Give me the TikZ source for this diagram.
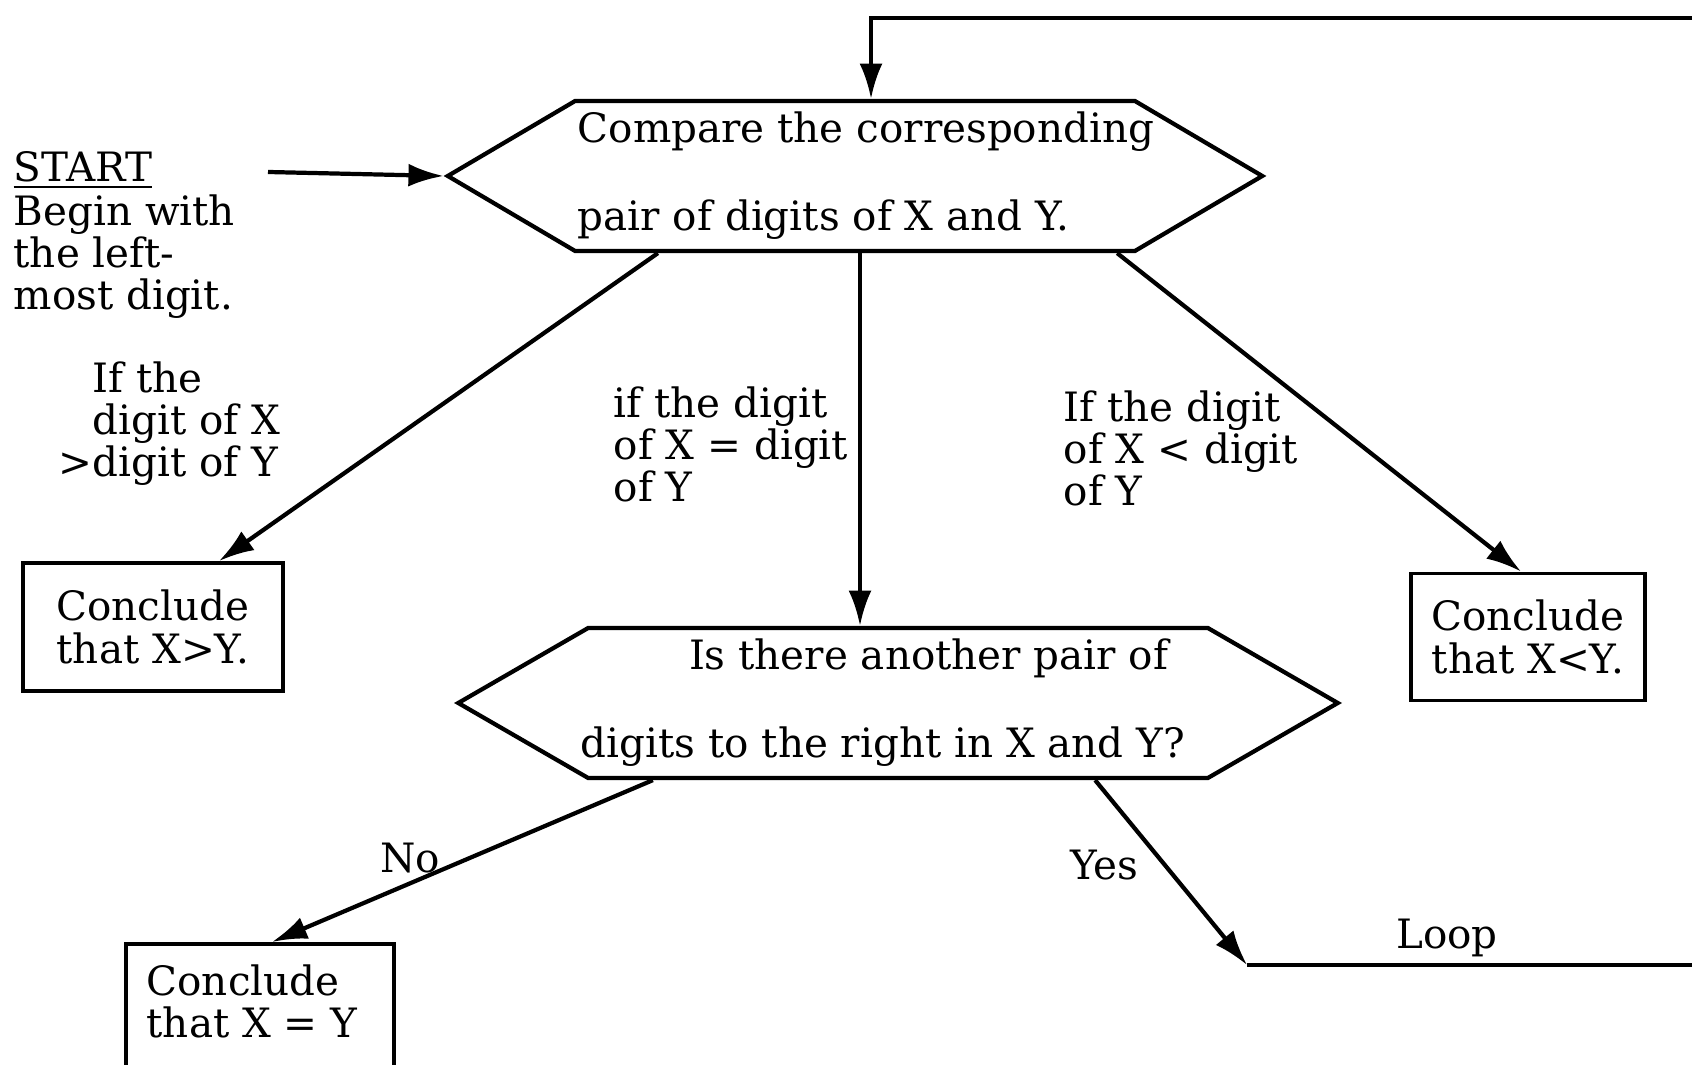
\documentclass[tikz,border=0pt]{standalone}
\usepackage{fontspec}
\setmainfont{DejaVu Serif}
\usepackage{tikz}
\usetikzlibrary{shapes.symbols, arrows.meta, positioning}
\tikzstyle{hexa}  = [signal, signal to=west and east, draw, line width=1.2pt,
                      align=left, minimum height=1.5cm, inner ysep=0pt, inner xsep=-0.2cm]
\tikzstyle{box}   = [rectangle, draw, line width=1.1pt, align=center, inner sep=0pt]
\tikzstyle{lbl}   = [align=left, inner sep=0pt, anchor=north west]
\tikzstyle{arrow} = [-{Latex[length=10pt, width=6.5pt]}, line width=1.2pt]
\tikzstyle{line}  = [line width=1.2pt]

\begin{document}
\begin{tikzpicture}[x=0.01cm, y=-0.01cm, font=\fontsize{11.5}{12}\selectfont]
  \useasboundingbox (0,0) rectangle (1692,1065);
  \clip (0,0) rectangle (1692,1065);

  % decisions
  \node[hexa, signal pointer angle=61, minimum width=8.14cm] (cmp) at (855,176)
    {\hspace*{0.22cm}Compare the corresponding\\[13pt]\hspace*{0.22cm}pair of digits of X and Y.};
  \node[hexa, signal pointer angle=60, minimum width=8.79cm] (more) at (898,703)
    {\hspace*{1.08cm}Is there another pair of\\[13pt]digits to the right in X and Y?\hspace*{0.3cm}};

  % results
  \node[box, minimum width=2.59cm, minimum height=1.28cm] (gt) at (153,627) {Conclude\\that X>Y.};
  \node[box, minimum width=2.34cm, minimum height=1.27cm] (lt) at (1528,637) {Conclude\\that X<Y.};
  \node[box, anchor=north west, minimum width=2.68cm, minimum height=2cm] (eqbox) at (124,942) {};
  \node[lbl] (eqtxt) at (146,964) {Conclude\\that X = Y};

  % start
  \node[lbl] (st) at (13,151) {\underline{START}};
  \node[lbl] (stnote) at (13,194) {Begin with\\the left-\\most digit.};
  \coordinate (stin) at (268,172);

  % branch labels
  \node[lbl] (gtlbl) at (92,361) {If the\\digit of X\\\llap{>}digit of Y};
  \node[lbl] (eqlbl) at (613,386) {if the digit\\of X = digit\\of Y};
  \node[lbl] (ltlbl) at (1063,390) {If the digit\\of X < digit\\of Y};
  \node (nolbl) at (410,858) {No};
  \node (yeslbl) at (1104,865) {Yes};

  % loop back
  \coordinate (loopc) at (1247,965);
  \coordinate (loopr) at (1720,965);
  \coordinate (topr) at (1720,18);
  \node (looplbl) at (1447,938) {Loop};

  \draw[arrow] (stin) -- (cmp.west);
  \draw[arrow] ([xshift=-1.97cm]cmp.south) -- ([xshift=0.66cm]gt.north);
  \draw[arrow] ([xshift=0.05cm]cmp.south) -- ([xshift=0.05cm]cmp.south |- more.north);
  \draw[arrow] ([xshift=2.62cm]cmp.south) -- ([xshift=-0.07cm]lt.north);
  \draw[arrow] ([xshift=-2.45cm]more.south) -- ([xshift=0.12cm]eqbox.north);
  \draw[arrow] ([xshift=1.97cm]more.south) -- (loopc);
  \draw[line] (loopc) -- (loopr);
  \draw[arrow] (topr) -| ([xshift=0.16cm]cmp.north);
\end{tikzpicture}
\end{document}
